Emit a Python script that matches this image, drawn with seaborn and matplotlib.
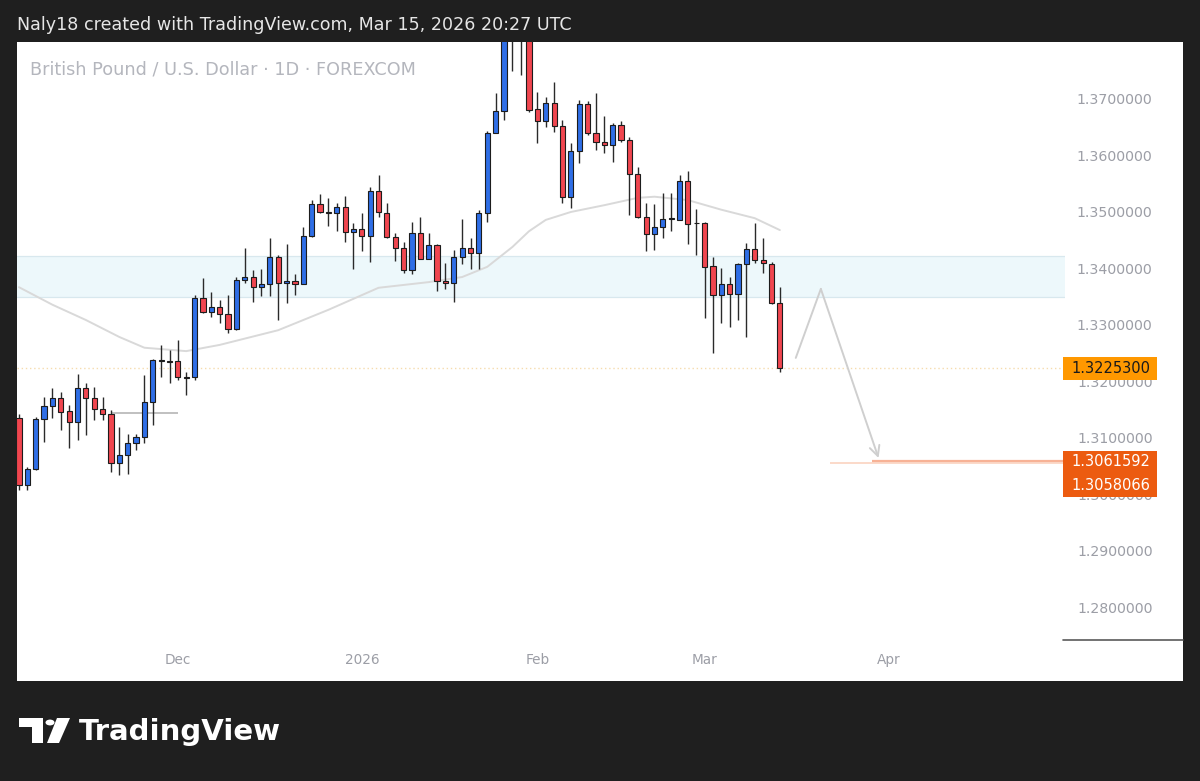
import numpy as np
import seaborn as sns
import matplotlib.pyplot as plt
import matplotlib.transforms as mtransforms
from matplotlib.patches import Rectangle, Circle, Polygon
from matplotlib.lines import Line2D

# daily GBPUSD candles, Nov 4 2025 .. Mar 13 2026 (bar index = trading day)
opens = [1.3138, 1.3019, 1.3048, 1.3136, 1.3159, 1.3173, 1.3150, 1.3131, 1.3191, 1.3173,
         1.3154, 1.3145, 1.3058, 1.3072, 1.3094, 1.3104, 1.3166, 1.3239, 1.3238, 1.3239,
         1.3209, 1.3210, 1.3350, 1.3325, 1.3334, 1.3322, 1.3295, 1.3382, 1.3387, 1.3369,
         1.3375, 1.3422, 1.3376, 1.3380, 1.3375, 1.3460, 1.3516, 1.3502, 1.3500, 1.3511,
         1.3467, 1.3472, 1.3460, 1.3539, 1.3500, 1.3458, 1.3438, 1.3399, 1.3465, 1.3419,
         1.3444, 1.3380, 1.3376, 1.3422, 1.3438, 1.3430, 1.3500, 1.3642, 1.3681, 1.3845,
         1.3830, 1.3815, 1.3684, 1.3663, 1.3695, 1.3654, 1.3529, 1.3610, 1.3693, 1.3642,
         1.3626, 1.3620, 1.3656, 1.3629, 1.3569, 1.3493, 1.3463, 1.3475, 1.3490, 1.3488,
         1.3557, 1.3482, 1.3483, 1.3407, 1.3355, 1.3375, 1.3357, 1.3410, 1.3437, 1.3417,
         1.3410, 1.3341]
highs = [1.3145, 1.3051, 1.3140, 1.3175, 1.3191, 1.3184, 1.3161, 1.3216, 1.3200, 1.3193,
         1.3175, 1.3152, 1.3122, 1.3110, 1.3110, 1.3214, 1.3242, 1.3267, 1.3258, 1.3276,
         1.3219, 1.3355, 1.3385, 1.3361, 1.3346, 1.3355, 1.3387, 1.3438, 1.3399, 1.3401,
         1.3456, 1.3426, 1.3445, 1.3392, 1.3475, 1.3523, 1.3534, 1.3527, 1.3518, 1.3530,
         1.3483, 1.3500, 1.3546, 1.3567, 1.3518, 1.3465, 1.3449, 1.3484, 1.3493, 1.3465,
         1.3445, 1.3412, 1.3435, 1.3490, 1.3456, 1.3506, 1.3645, 1.3712, 1.3860, 1.3870,
         1.3850, 1.3830, 1.3714, 1.3705, 1.3732, 1.3665, 1.3624, 1.3700, 1.3698, 1.3712,
         1.3672, 1.3659, 1.3663, 1.3635, 1.3582, 1.3518, 1.3516, 1.3536, 1.3536, 1.3567,
         1.3574, 1.3507, 1.3484, 1.3422, 1.3403, 1.3387, 1.3411, 1.3447, 1.3483, 1.3456,
         1.3414, 1.3369]
lows = [1.3010, 1.3010, 1.3046, 1.3095, 1.3138, 1.3117, 1.3085, 1.3099, 1.3108, 1.3134,
        1.3134, 1.3042, 1.3037, 1.3039, 1.3081, 1.3094, 1.3125, 1.3210, 1.3200, 1.3205,
        1.3178, 1.3205, 1.3323, 1.3316, 1.3306, 1.3288, 1.3294, 1.3376, 1.3343, 1.3353,
        1.3353, 1.3311, 1.3341, 1.3355, 1.3374, 1.3458, 1.3500, 1.3477, 1.3468, 1.3449,
        1.3401, 1.3433, 1.3414, 1.3493, 1.3456, 1.3415, 1.3394, 1.3392, 1.3418, 1.3418,
        1.3362, 1.3366, 1.3343, 1.3410, 1.3401, 1.3401, 1.3484, 1.3641, 1.3665, 1.3751,
        1.3744, 1.3679, 1.3624, 1.3652, 1.3643, 1.3518, 1.3509, 1.3589, 1.3638, 1.3612,
        1.3606, 1.3590, 1.3626, 1.3497, 1.3491, 1.3433, 1.3435, 1.3456, 1.3468, 1.3487,
        1.3445, 1.3426, 1.3315, 1.3253, 1.3306, 1.3299, 1.3311, 1.3281, 1.3412, 1.3394,
        1.3339, 1.3219]
closes = [1.3019, 1.3048, 1.3136, 1.3159, 1.3173, 1.3148, 1.3131, 1.3191, 1.3173, 1.3154,
          1.3145, 1.3058, 1.3072, 1.3094, 1.3104, 1.3166, 1.3240, 1.3241, 1.3237, 1.3210,
          1.3211, 1.3350, 1.3325, 1.3334, 1.3322, 1.3295, 1.3382, 1.3387, 1.3369, 1.3375,
          1.3422, 1.3376, 1.3380, 1.3375, 1.3460, 1.3516, 1.3502, 1.3500, 1.3511, 1.3467,
          1.3472, 1.3460, 1.3539, 1.3502, 1.3458, 1.3438, 1.3399, 1.3465, 1.3419, 1.3444,
          1.3380, 1.3376, 1.3422, 1.3438, 1.3430, 1.3500, 1.3642, 1.3681, 1.3845, 1.3830,
          1.3815, 1.3682, 1.3663, 1.3695, 1.3654, 1.3529, 1.3610, 1.3693, 1.3642, 1.3626,
          1.3620, 1.3656, 1.3629, 1.3569, 1.3493, 1.3463, 1.3475, 1.3490, 1.3491, 1.3557,
          1.3481, 1.3483, 1.3405, 1.3355, 1.3375, 1.3357, 1.3410, 1.3437, 1.3417, 1.3412,
          1.3341, 1.32253]

# moving average
ma_bars = [0, 4, 8, 12, 15, 20, 24, 31, 37, 43, 49, 53, 56, 59, 61, 63, 66, 70, 74, 76, 80, 84, 88, 91]
ma_vals = [1.3369, 1.3338, 1.3311, 1.3281, 1.3262, 1.3256, 1.3267, 1.3293, 1.3329, 1.3368, 1.3378,
           1.3387, 1.3405, 1.3440, 1.3468, 1.3488, 1.3502, 1.3514, 1.3527, 1.3529, 1.3523, 1.3506,
           1.3491, 1.3470]

# drawings
zone_low, zone_high = 1.3352, 1.3424
last_price = 1.32253
target_prices = [1.3061592, 1.3058066]
target_start = [102, 97]
support_price = 1.3147
support_bars = [11, 19]
arrow_bars = [92.9, 95.9, 102.8]
arrow_prices = [1.3244, 1.3366, 1.3067]

price_ticks = [1.28, 1.29, 1.30, 1.31, 1.32, 1.33, 1.34, 1.35, 1.36, 1.37]
month_labels = ['Dec', '2026', 'Feb', 'Mar', 'Apr']
month_bars = [19, 41, 62, 82, 104]

W, H = 1200, 781
def fx(px):
    return px / W
def fy(py):
    return 1 - py / H

sns.set_theme(style='white')
plt.rcParams['font.family'] = ['DejaVu Sans']

fig = plt.figure(figsize=(12, 7.81), dpi=100, facecolor='#1f1f1f')
fig.add_artist(Rectangle((fx(17), fy(681)), fx(1183) - fx(17), fy(42) - fy(681),
                         transform=fig.transFigure, facecolor='white', edgecolor='none', zorder=0))

ax = fig.add_axes([fx(17), fy(640), fx(1065) - fx(17), fy(42) - fy(640)])
ax.set_facecolor('white')
for s in ax.spines.values():
    s.set_visible(False)
ax.set_xticks([])
ax.set_yticks([])
ax.set_xlim(-0.24, 125.1)
ax.set_ylim(1.27453, 1.38025)

o = np.array(opens)
h = np.array(highs)
l = np.array(lows)
c = np.array(closes)
x = np.arange(len(o))
up = c >= o

# zone and levels
ax.axhspan(zone_low, zone_high, facecolor='#edf8fb', edgecolor='none', zorder=0)
ax.axhline(zone_low, color='#d8e8ee', lw=0.9, zorder=0)
ax.axhline(zone_high, color='#d8e8ee', lw=0.9, zorder=0)
ax.axhline(last_price, color='#f6dcae', lw=1.0, ls=(0, (1, 2)), zorder=0)
ax.hlines(target_prices[1], target_start[1], 126, color='#fbd3c0', lw=1.2, zorder=1)
ax.hlines(target_prices[0], target_start[0], 126, color='#f7b296', lw=1.6, zorder=1)
ax.hlines(support_price, support_bars[0], support_bars[1], color='#b5b5b5', lw=1.2, zorder=1)

# moving average
sns.lineplot(x=ma_bars, y=ma_vals, ax=ax, color='#d9d9d9', lw=1.4, zorder=1)

# candles
ax.vlines(x, l, h, color='#2a2a2a', lw=1.0, zorder=2)
ax.bar(x, np.maximum(np.abs(c - o), 0.00007), bottom=np.minimum(o, c), width=0.62,
       color=np.where(up, '#2f6ee6', '#f0464f'), edgecolor='#1c1c1c', linewidth=0.8, zorder=3)

# projected path
ax.plot(arrow_bars[:2], arrow_prices[:2], color='#cfcfcf', lw=1.4, zorder=2)
ax.annotate('', xy=(arrow_bars[2], arrow_prices[2]), xytext=(arrow_bars[1], arrow_prices[1]),
            arrowprops=dict(arrowstyle='->', color='#cfcfcf', lw=1.4, shrinkA=0, shrinkB=0,
                            mutation_scale=18), zorder=2)

# price scale
blend_y = mtransforms.blended_transform_factory(ax.transAxes, ax.transData)
blend_x = mtransforms.blended_transform_factory(ax.transData, ax.transAxes)
for v in price_ticks:
    ax.text(1.0475, v, f'{v:.7f}', transform=blend_y, ha='center', va='center',
            color='#9c9ea6', fontsize=10.2, clip_on=False)

px_h = (1.38025 - 1.27453) / 598
ax.add_patch(Rectangle((0.998, last_price - 11.5 * px_h), 0.09, 23 * px_h, transform=blend_y,
                       facecolor='#ff9800', edgecolor='none', clip_on=False, zorder=5))
ax.text(1.0435, last_price, f'{last_price:.7f}', transform=blend_y, ha='center', va='center',
        color='#1a1a1a', fontsize=10.5, clip_on=False, zorder=6)
ax.add_patch(Rectangle((0.998, target_prices[0] - 36 * px_h), 0.09, 46 * px_h, transform=blend_y,
                       facecolor='#ec5b10', edgecolor='none', clip_on=False, zorder=5))
ax.text(1.0435, target_prices[0], f'{target_prices[0]:.7f}', transform=blend_y, ha='center',
        va='center', color='white', fontsize=10.5, clip_on=False, zorder=6)
ax.text(1.0435, target_prices[0] - 24 * px_h, f'{target_prices[1]:.7f}', transform=blend_y,
        ha='center', va='center', color='white', fontsize=10.5, clip_on=False, zorder=6)

fig.add_artist(Line2D([fx(1063), fx(1183)], [fy(640), fy(640)], color='#5a5a5a', lw=1.2))

# time scale
for b, lab in zip(month_bars, month_labels):
    ax.text(b, -0.0334, lab, transform=blend_x, ha='center', va='center',
            color='#9c9ea6', fontsize=9.8, clip_on=False)

# titles
fig.text(fx(17), fy(25), 'Naly18 created with TradingView.com, Mar 15, 2026 20:27 UTC',
         color='#e6e6e6', fontsize=12.6, va='center', ha='left')
fig.text(fx(30), fy(70), 'British Pound / U.S. Dollar · 1D · FOREXCOM',
         color='#b4b6bd', fontsize=12.7, va='center', ha='left')

# logo
pts = [(19, 718), (43, 718), (43, 743), (32, 743), (32, 727), (19, 727)]
fig.add_artist(Polygon([(fx(a), fy(b)) for a, b in pts], closed=True, transform=fig.transFigure,
                       facecolor='white', edgecolor='none'))
fig.add_artist(Circle((fx(50), fy(722.5)), 4.5 / W, transform=fig.transFigure,
                      facecolor='white', edgecolor='none'))
pts = [(57, 718), (70, 718), (59, 743), (47, 743)]
fig.add_artist(Polygon([(fx(a), fy(b)) for a, b in pts], closed=True, transform=fig.transFigure,
                       facecolor='white', edgecolor='none'))
fig.text(fx(79), fy(732), 'TradingView', color='white', fontsize=21, fontweight='bold',
         va='center', ha='left')

fig.savefig('out.png', dpi=100, facecolor=fig.get_facecolor())
